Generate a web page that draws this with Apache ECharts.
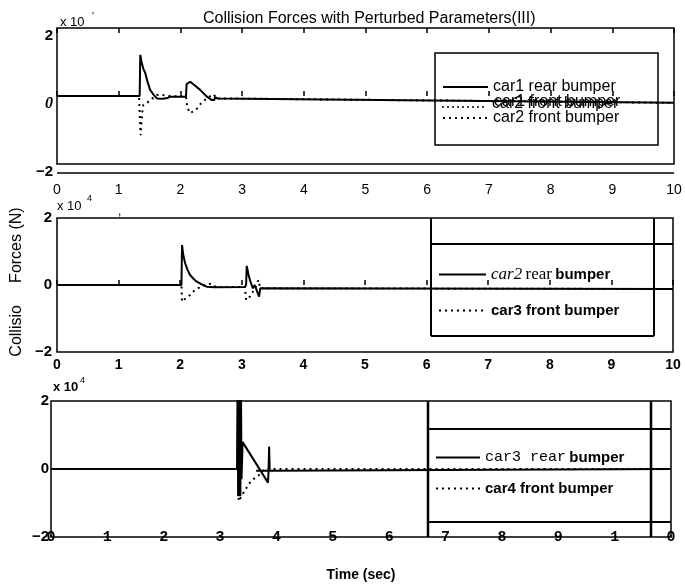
<!DOCTYPE html>
<html>
<head>
<meta charset="utf-8">
<script src="https://cdn.jsdelivr.net/npm/echarts/dist/echarts.min.js"></script>
<style>
  html, body { margin: 0; padding: 0; background: #fff; }
  #chart { width: 685px; height: 586px; }
</style>
</head>
<body>
<div id="chart"></div>
<script>
// Collision forces, time in seconds, force in units of 10^4 N.

// car1 rear bumper (top panel, solid)
const car1RearT = [0, 1.34, 1.35, 1.37, 1.40, 1.43, 1.47, 1.51, 1.56, 1.62, 1.72, 1.79, 1.83, 2.09, 2.10, 2.16, 2.22, 2.32, 2.43, 2.51, 2.55, 2.56, 2.60, 10];
const car1RearF = [0, 0, 1.21, 1.0, 0.80, 0.68, 0.40, 0.18, 0.05, -0.07, -0.08, -0.06, -0.02, -0.02, 0.35, 0.42, 0.33, 0.18, -0.02, -0.12, -0.12, -0.03, -0.07, -0.2];

// car2 front bumper (top panel, dotted)
const car2FrontT = [0, 1.33, 1.34, 1.355, 1.38, 1.40, 1.46, 1.51, 1.62, 1.70, 1.81, 2.09, 2.11, 2.15, 2.22, 2.28, 2.34, 2.44, 2.54, 2.58, 10];
const car2FrontF = [0, 0, -0.5, -1.15, -0.5, -0.26, -0.2, -0.12, 0.03, 0.03, 0, -0.02, -0.3, -0.5, -0.45, -0.35, -0.2, -0.05, 0.05, -0.07, -0.2];

// car2 rear bumper (middle panel, solid)
const car2RearT = [0, 2.02, 2.03, 2.05, 2.08, 2.12, 2.16, 2.22, 2.27, 2.35, 2.43, 2.56, 3.05, 3.07, 3.08, 3.11, 3.14, 3.18, 3.21, 3.25, 3.28, 3.30, 10];
const car2RearF = [0, 0, 1.19, 0.9, 0.65, 0.45, 0.3, 0.18, 0.1, 0.02, -0.05, -0.07, -0.06, 0, 0.57, 0.3, 0.1, -0.1, 0.0, -0.2, -0.35, -0.1, -0.12];

// car3 front bumper (middle panel, dotted)
const car3FrontT = [0, 2.02, 2.03, 2.06, 2.09, 2.16, 2.24, 2.34, 2.43, 2.51, 2.58, 3.05, 3.07, 3.09, 3.13, 3.18, 3.24, 3.27, 3.30, 10];
const car3FrontF = [0, 0, -0.5, -0.45, -0.4, -0.3, -0.15, -0.05, 0.02, 0.04, -0.06, -0.06, -0.45, -0.5, -0.35, -0.2, 0, 0.15, -0.1, -0.12];

// car3 rear bumper (bottom panel, solid)
const car3RearT = [0, 3.30, 3.31, 3.32, 3.33, 3.34, 3.35, 3.36, 3.37, 3.38, 3.40, 3.85, 3.86, 3.87, 3.88, 3.64, 3.89, 3.91, 11];
const car3RearF = [0, 0, 2.6, -0.8, 2.6, -0.8, 2.6, -0.8, 2.6, -0.3, 0.79, -0.40, -0.05, 0.66, -0.05, -0.05, -0.05, 0, 0];

// car4 front bumper (bottom panel, dotted)
const car4FrontT = [0, 3.32, 3.33, 3.34, 3.45, 3.55, 3.69, 3.76, 3.82, 11];
const car4FrontF = [0, 0, -0.95, -0.95, -0.6, -0.35, -0.18, -0.05, 0, 0];

// tick labels
const topXLabels = ['0', '1', '2', '3', '4', '5', '6', '7', '8', '9', '10'];
const midXLabels = ['0', '1', '2', '3', '4', '5', '6', '7', '8', '9', '10'];
const botXLabels = ['0', '1', '2', '3', '4', '5', '6', '7', '8', '9', '1', '0'];
const yTickValues = [-2, 0, 2];
const yTickLabels = ['\u22122', '0', '2'];

const black = '#000';
const sans = '"Liberation Sans", Arial, Helvetica, sans-serif';
const serif = '"Liberation Serif", "Times New Roman", serif';
const mono = '"Liberation Mono", "Courier New", monospace';

const zip = (t, f) => t.map((x, i) => [x, f[i]]);
const yLabel = v => yTickLabels[yTickValues.indexOf(Math.round(v))] || '';

function lineSeries(name, xi, yi, t, f, dotted) {
  return {
    type: 'line', name: name, xAxisIndex: xi, yAxisIndex: yi,
    data: zip(t, f), showSymbol: false, symbol: 'none', clip: true,
    animation: false,
    itemStyle: { color: black },
    lineStyle: dotted
      ? { color: black, width: 2, type: [2, 4], cap: 'butt' }
      : { color: black, width: 2, type: 'solid' }
  };
}

const gridBase = {
  show: true, borderColor: black, borderWidth: 1.5,
  backgroundColor: 'transparent', containLabel: false, outerBoundsMode: 'none'
};

const tickStyle = { inside: true, length: 5, lineStyle: { color: black, width: 1.5 } };

// legend samples: line only, no marker
const legendBase = {
  orient: 'vertical', selectedMode: false, padding: 0,
  itemStyle: { opacity: 0, borderWidth: 0 },
  lineStyle: { inactiveWidth: 2 }
};

function hLine(x1, x2, y, w) {
  return { type: 'line', shape: { x1: x1, y1: y, x2: x2, y2: y }, style: { stroke: black, lineWidth: w || 1.5 }, z: 10 };
}
function vLine(x, y1, y2, w) {
  return { type: 'line', shape: { x1: x, y1: y1, x2: x, y2: y2 }, style: { stroke: black, lineWidth: w || 1.5 }, z: 10 };
}
function txt(x, y, s, size, extra) {
  return {
    type: 'text', x: x, y: y, z: 10,
    style: Object.assign({ text: s, fill: black, fontSize: size, fontFamily: sans, verticalAlign: 'middle' }, (extra || {}))
  };
}

const option = {
  backgroundColor: '#fff',
  animation: false,
  title: {
    text: 'Collision Forces with Perturbed Parameters(III)',
    left: 198, top: 6,
    textStyle: { fontFamily: sans, fontSize: 16, fontWeight: 'normal', color: black }
  },
  grid: [
    Object.assign({}, gridBase, { left: 57, top: 28, width: 617, height: 136 }),
    Object.assign({}, gridBase, { left: 57, top: 218, width: 616, height: 134 }),
    Object.assign({}, gridBase, { left: 51, top: 401, width: 620, height: 136 })
  ],
  xAxis: [
    {
      gridIndex: 0, type: 'value', min: 0, max: 10, interval: 1, position: 'bottom',
      axisLine: { show: false }, axisTick: tickStyle, splitLine: { show: false },
      axisLabel: {
        margin: 19, color: black, fontFamily: sans, fontSize: 14, showMinLabel: true, showMaxLabel: true,
        formatter: v => topXLabels[Math.round(v)]
      }
    },
    {
      gridIndex: 0, type: 'value', min: 0, max: 10, interval: 1, position: 'top',
      axisLine: { show: false }, axisTick: tickStyle, splitLine: { show: false },
      axisLabel: { show: false }
    },
    {
      gridIndex: 1, type: 'value', min: 0, max: 10, interval: 1, position: 'bottom',
      axisLine: { show: false }, axisTick: tickStyle, splitLine: { show: false },
      axisLabel: {
        margin: 6, color: black, fontFamily: sans, fontSize: 14, fontWeight: 'bold',
        showMinLabel: true, showMaxLabel: true,
        formatter: v => midXLabels[Math.round(v)]
      }
    },
    {
      gridIndex: 2, type: 'value', min: 0, max: 11, interval: 1, position: 'bottom',
      axisLine: { show: false }, axisTick: { show: false }, splitLine: { show: false },
      axisLabel: {
        margin: 0, verticalAlign: 'middle', color: black, fontFamily: mono, fontSize: 15, fontWeight: 'bold',
        showMinLabel: true, showMaxLabel: true,
        formatter: v => botXLabels[Math.round(v)]
      }
    }
  ],
  yAxis: [
    {
      gridIndex: 0, type: 'value', min: -2, max: 2, interval: 2,
      axisLine: { show: false }, axisTick: { show: false }, splitLine: { show: false },
      axisLabel: {
        margin: 4, verticalAlign: 'top', color: black, fontFamily: sans, fontSize: 15, fontWeight: 'bold',
        formatter: v => Math.round(v) === 0 ? '{z|0}' : yLabel(v),
        rich: { z: { fontFamily: serif, fontStyle: 'italic', fontSize: 16, fontWeight: 'bold', color: black } }
      }
    },
    {
      gridIndex: 1, type: 'value', min: -2, max: 2, interval: 2,
      axisLine: { show: false }, axisTick: { show: false }, splitLine: { show: false },
      axisLabel: { margin: 5, color: black, fontFamily: sans, fontSize: 15, fontWeight: 'bold', formatter: yLabel }
    },
    {
      gridIndex: 2, type: 'value', min: -2, max: 2, interval: 2,
      axisLine: { show: false }, axisTick: { show: false }, splitLine: { show: false },
      axisLabel: { margin: 2, color: black, fontFamily: sans, fontSize: 15, fontWeight: 'bold', formatter: yLabel }
    }
  ],
  legend: [
    Object.assign({}, legendBase, {
      data: ['car1 rear bumper', 'car2 front bumper'],
      left: 442, top: 79, itemWidth: 45, itemHeight: 14, itemGap: 15,
      textStyle: { fontFamily: sans, fontSize: 16, color: black, lineHeight: 14 }
    }),
    Object.assign({}, legendBase, {
      data: ['car2 rear bumper', 'car3 front bumper'],
      left: 438, top: 266, itemWidth: 47, itemHeight: 14, itemGap: 20,
      formatter: n => n === 'car2 rear bumper' ? '{i|car2} {r|rear} {b|bumper}' : '{b|car3 front bumper}',
      textStyle: {
        color: black, lineHeight: 14,
        rich: {
          i: { fontFamily: serif, fontStyle: 'italic', fontSize: 17, color: black },
          r: { fontFamily: serif, fontSize: 17, color: black },
          b: { fontFamily: sans, fontWeight: 'bold', fontSize: 15, color: black }
        }
      }
    }),
    Object.assign({}, legendBase, {
      data: ['car3 rear bumper', 'car4 front bumper'],
      left: 435, top: 450, itemWidth: 44, itemHeight: 14, itemGap: 16,
      formatter: n => n === 'car3 rear bumper' ? '{m|car3 rear} {b|bumper}' : '{b|car4 front bumper}',
      textStyle: {
        color: black, lineHeight: 14,
        rich: {
          m: { fontFamily: mono, fontSize: 15, color: black },
          b: { fontFamily: sans, fontWeight: 'bold', fontSize: 15, color: black }
        }
      }
    })
  ],
  series: [
    lineSeries('car1 rear bumper', 0, 0, car1RearT, car1RearF, false),
    lineSeries('car2 front bumper', 0, 0, car2FrontT, car2FrontF, true),
    lineSeries('car2 rear bumper', 2, 1, car2RearT, car2RearF, false),
    lineSeries('car3 front bumper', 2, 1, car3FrontT, car3FrontF, true),
    lineSeries('car3 rear bumper', 3, 2, car3RearT, car3RearF, false),
    lineSeries('car4 front bumper', 3, 2, car4FrontT, car4FrontF, true)
  ],
  graphic: [
    // top panel: second baseline and legend frame
    hLine(57, 674, 173, 1.5),
    { type: 'rect', shape: { x: 435, y: 53, width: 223, height: 92 }, style: { fill: null, stroke: black, lineWidth: 1.5 }, z: 10 },
    { type: 'line', shape: { x1: 442, y1: 107, x2: 487, y2: 107 }, style: { stroke: black, lineWidth: 1.5, lineDash: [2, 3] }, z: 10 },
    txt(492, 104, 'car2 front bumper', 16),
    txt(494, 102, 'car1 front bumper', 16),
    // middle panel legend frame
    vLine(431, 218, 336, 2),
    vLine(654, 218, 336, 2),
    hLine(431, 673, 244, 2),
    hLine(431, 654, 336, 2),
    // bottom panel legend frame
    vLine(428, 401, 537, 2.5),
    vLine(651, 401, 537, 2.5),
    hLine(428, 671, 429, 2),
    hLine(428, 671, 522, 2),
    // exponent marks
    txt(60, 22, 'x 10', 13),
    txt(92, 17, '\'', 10),
    txt(57, 206, 'x 10', 13),
    txt(87, 199, '4', 9),
    txt(53, 387, 'x 10', 13, { fontWeight: 'bold' }),
    txt(80, 381, '4', 9),
    txt(118, 212, ',', 12),
    // axis titles
    {
      type: 'text', x: 17, y: 282, rotation: Math.PI / 2, z: 10,
      style: { text: 'Collisio     Forces (N)', fill: black, fontSize: 16, fontFamily: sans, align: 'center', verticalAlign: 'middle' }
    },
    {
      type: 'text', x: 361, y: 575, z: 10,
      style: { text: 'Time (sec)', fill: black, fontSize: 14, fontWeight: 'bold', fontFamily: sans, align: 'center', verticalAlign: 'middle' }
    }
  ]
};

const chart = echarts.init(document.getElementById('chart'), null, { renderer: 'canvas' });
chart.setOption(option);
</script>
</body>
</html>
